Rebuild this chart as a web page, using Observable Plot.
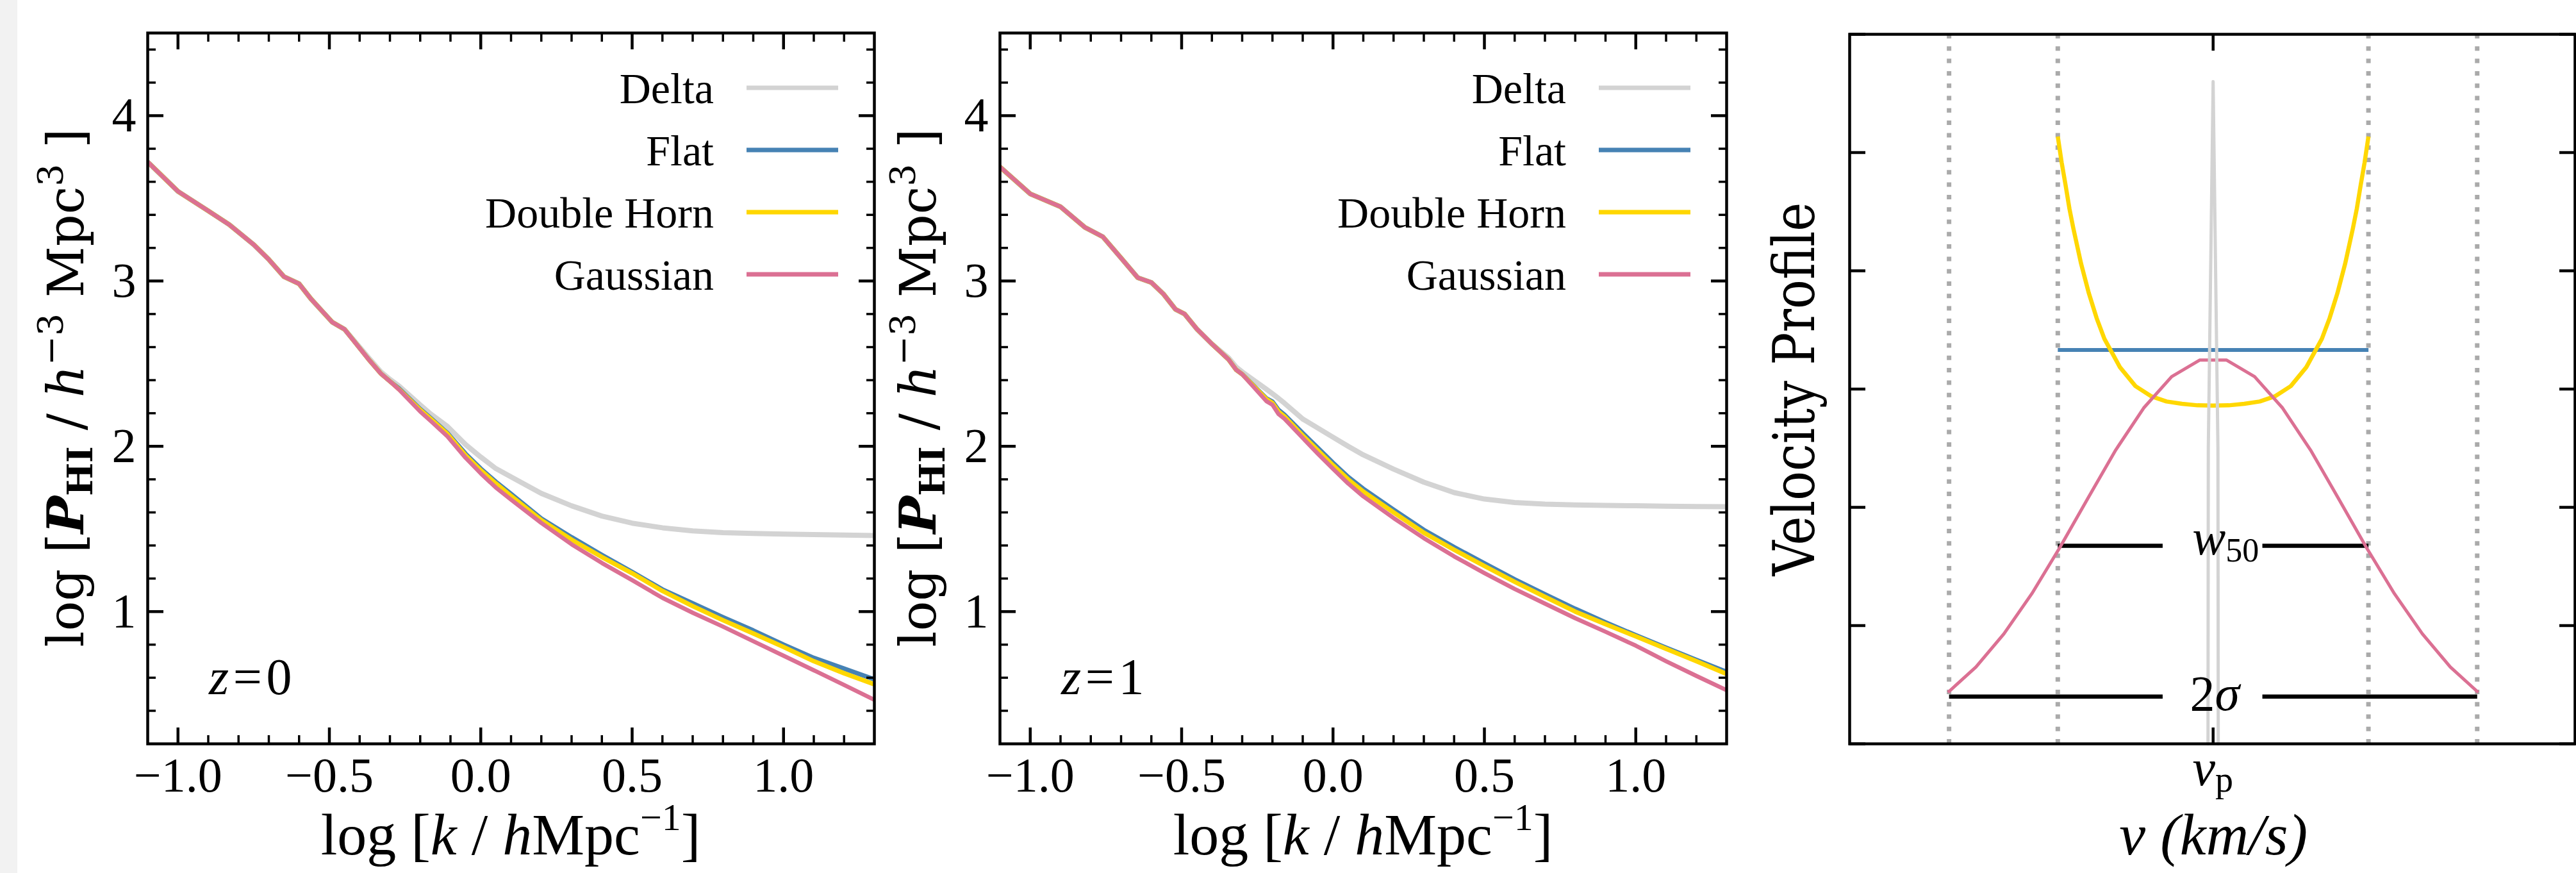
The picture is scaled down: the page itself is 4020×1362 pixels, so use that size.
<!DOCTYPE html>
<html>
<head>
<meta charset="utf-8">
<script src="https://cdn.jsdelivr.net/npm/d3@7"></script>
<script src="https://cdn.jsdelivr.net/npm/@observablehq/plot@0.6"></script>
<style>
  html, body { margin: 0; padding: 0; background: #ffffff; }
  #fig { position: relative; width: 4020px; height: 1362px; background: #ffffff; overflow: hidden; }
  #strip { position: absolute; left: 0; top: 0; width: 27px; height: 1362px; background: #f2f2f2; }
  .panel { position: absolute; top: 0; }
</style>
</head>
<body>
<div id="fig"><div id="strip"></div></div>
<script>
// ---------------- data ----------------
const seriesNames = ["Delta", "Flat", "Double Horn", "Gaussian"];
const seriesColors = ["#d3d3d3", "#4682b4", "#ffd700", "#db7093"];

// z = 0 : log k and log P_HI
const k_z0 = [-1.1, -1.0, -0.9, -0.83, -0.75, -0.7, -0.65, -0.6, -0.56, -0.49, -0.45, -0.37, -0.33, -0.3, -0.27, -0.2, -0.165, -0.11, -0.05, 0, 0.05, 0.1, 0.2, 0.3, 0.4, 0.5, 0.6, 0.7, 0.8, 0.9, 1.0, 1.1, 1.2, 1.3];
const delta_z0 = [3.72, 3.542, 3.424, 3.34, 3.22, 3.13, 3.026, 2.983, 2.89, 2.75, 2.708, 2.535, 2.45, 2.405, 2.365, 2.25, 2.195, 2.12, 2.01, 1.935, 1.865, 1.815, 1.715, 1.64, 1.578, 1.535, 1.507, 1.488, 1.478, 1.473, 1.469, 1.466, 1.463, 1.46];
const flat_z0 = [3.72, 3.542, 3.424, 3.34, 3.22, 3.13, 3.026, 2.983, 2.89, 2.75, 2.708, 2.525, 2.44, 2.393, 2.35, 2.225, 2.17, 2.08, 1.955, 1.865, 1.785, 1.712, 1.563, 1.45, 1.343, 1.24, 1.134, 1.05, 0.966, 0.886, 0.80, 0.72, 0.655, 0.59];
const horn_z0 = [3.72, 3.542, 3.424, 3.34, 3.22, 3.13, 3.026, 2.983, 2.89, 2.75, 2.708, 2.525, 2.44, 2.393, 2.345, 2.22, 2.165, 2.075, 1.945, 1.855, 1.775, 1.70, 1.553, 1.435, 1.33, 1.232, 1.125, 1.033, 0.948, 0.868, 0.786, 0.70, 0.627, 0.56];
const gauss_z0 = [3.72, 3.542, 3.424, 3.34, 3.22, 3.13, 3.026, 2.983, 2.89, 2.75, 2.708, 2.525, 2.44, 2.393, 2.343, 2.21, 2.153, 2.06, 1.93, 1.836, 1.75, 1.677, 1.536, 1.407, 1.294, 1.19, 1.083, 0.993, 0.909, 0.821, 0.733, 0.645, 0.556, 0.466];

// z = 1
const k_z1 = [-1.1, -1.0, -0.9, -0.82, -0.76, -0.7, -0.645, -0.6, -0.56, -0.52, -0.49, -0.45, -0.4, -0.345, -0.32, -0.3, -0.22, -0.2, -0.18, -0.16, -0.1, -0.05, 0, 0.05, 0.1, 0.2, 0.3, 0.4, 0.5, 0.6, 0.7, 0.8, 0.9, 1.0, 1.1, 1.2, 1.3];
const delta_z1 = [3.69, 3.527, 3.449, 3.325, 3.267, 3.139, 3.02, 2.991, 2.921, 2.828, 2.80, 2.71, 2.619, 2.535, 2.48, 2.45, 2.345, 2.318, 2.29, 2.26, 2.165, 2.11, 2.055, 2.0, 1.948, 1.862, 1.783, 1.72, 1.681, 1.66, 1.65, 1.645, 1.642, 1.64, 1.638, 1.636, 1.635];
const flat_z1 = [3.69, 3.527, 3.449, 3.325, 3.267, 3.139, 3.02, 2.991, 2.921, 2.828, 2.80, 2.71, 2.619, 2.525, 2.463, 2.436, 2.29, 2.27, 2.22, 2.19, 2.08, 1.99, 1.90, 1.815, 1.743, 1.617, 1.494, 1.39, 1.292, 1.195, 1.105, 1.017, 0.935, 0.857, 0.782, 0.708, 0.635];
const horn_z1 = [3.69, 3.527, 3.449, 3.325, 3.267, 3.139, 3.02, 2.991, 2.921, 2.828, 2.80, 2.71, 2.619, 2.525, 2.463, 2.436, 2.285, 2.262, 2.21, 2.18, 2.065, 1.975, 1.885, 1.80, 1.726, 1.60, 1.477, 1.374, 1.276, 1.18, 1.089, 1.0, 0.924, 0.85, 0.775, 0.70, 0.623];
const gauss_z1 = [3.69, 3.527, 3.449, 3.325, 3.267, 3.139, 3.02, 2.991, 2.921, 2.828, 2.80, 2.71, 2.619, 2.525, 2.463, 2.436, 2.273, 2.251, 2.195, 2.166, 2.05, 1.955, 1.864, 1.775, 1.697, 1.566, 1.444, 1.334, 1.233, 1.137, 1.048, 0.96, 0.878, 0.794, 0.70, 0.611, 0.524];

const xMajorTicks = [-1.0, -0.5, 0.0, 0.5, 1.0];
const xMinorTicks = [-0.9, -0.8, -0.7, -0.6, -0.4, -0.3, -0.2, -0.1, 0.1, 0.2, 0.3, 0.4, 0.6, 0.7, 0.8, 0.9, 1.1, 1.2];
const yMajorTicks = [1, 2, 3, 4];
const yMinorTicks = [0.4, 0.6, 0.8, 1.2, 1.4, 1.6, 1.8, 2.2, 2.4, 2.6, 2.8, 3.2, 3.4, 3.6, 3.8, 4.2, 4.4];
const zLabels = ["0", "1"];

// velocity-profile panel (v relative to v_p)
const deltaV = [-0.033, -0.031, 0, 0.031, 0.033];
const deltaP = [0, 0.5, 1.12, 0.5, 0];
const flatV = [-1.0, 1.0];
const flatP = [0.666, 0.666];
const hornV = [-1.0, -0.975, -0.95, -0.925, -0.9, -0.85, -0.8, -0.75, -0.7, -0.6, -0.5, -0.4, -0.3, -0.2, -0.1, 0, 0.1, 0.2, 0.3, 0.4, 0.5, 0.6, 0.7, 0.75, 0.8, 0.85, 0.9, 0.925, 0.95, 0.975, 1.0];
const hornP = [1.027, 0.983, 0.945, 0.905, 0.872, 0.812, 0.762, 0.720, 0.685, 0.637, 0.605, 0.588, 0.579, 0.575, 0.5725, 0.572, 0.5725, 0.575, 0.579, 0.588, 0.605, 0.637, 0.685, 0.720, 0.762, 0.812, 0.872, 0.905, 0.945, 0.983, 1.027];
const gaussV = [-1.707, -1.527, -1.347, -1.167, -0.987, -0.807, -0.627, -0.447, -0.267, -0.087, 0.087, 0.267, 0.447, 0.627, 0.807, 0.987, 1.167, 1.347, 1.527, 1.707];
const gaussP = [0.087, 0.130, 0.186, 0.254, 0.332, 0.415, 0.497, 0.568, 0.621, 0.649, 0.649, 0.621, 0.568, 0.497, 0.415, 0.332, 0.254, 0.186, 0.130, 0.087];
const widthMarkersV = [-1.7, -1.0, 1.0, 1.7];
const segX1 = [-1.0, 0.317, -1.7, 0.317];
const segX2 = [-0.325, 1.0, -0.325, 1.7];
const segY = [0.335, 0.335, 0.08, 0.08];
const profileTicks = [0, 0.2, 0.4, 0.6, 0.8, 1.0, 1.2];

// ---------------- drawing ----------------
const SERIF = "'Liberation Serif', 'Times New Roman', Times, serif";
const DEJAVU = "'DejaVu Serif', serif";
const lineWidths = [8, 7, 7, 6.5];
const fig = document.getElementById("fig");

function inwardAxes(xMaj, xMin, yMaj, yMin, labelX, labelY) {
  const none = () => "";
  const marks = [
    Plot.axisX({anchor: "bottom", ticks: xMaj, tickSize: -25, tickPadding: 46, tickFormat: labelX || none, fontSize: 76, strokeWidth: 4.5, label: null}),
    Plot.axisX({anchor: "top", ticks: xMaj, tickSize: -25, tickFormat: none, strokeWidth: 4.5, label: null}),
    Plot.axisY({anchor: "left", ticks: yMaj, tickSize: -25, tickPadding: 43, tickFormat: labelY || none, fontSize: 76, strokeWidth: 4.5, label: null}),
    Plot.axisY({anchor: "right", ticks: yMaj, tickSize: -25, tickFormat: none, strokeWidth: 4.5, label: null})
  ];
  if (xMin) marks.push(
    Plot.axisX({anchor: "bottom", ticks: xMin, tickSize: -13, tickFormat: none, strokeWidth: 3.5, label: null}),
    Plot.axisX({anchor: "top", ticks: xMin, tickSize: -13, tickFormat: none, strokeWidth: 3.5, label: null}));
  if (yMin) marks.push(
    Plot.axisY({anchor: "left", ticks: yMin, tickSize: -13, tickFormat: none, strokeWidth: 3.5, label: null}),
    Plot.axisY({anchor: "right", ticks: yMin, tickSize: -13, tickFormat: none, strokeWidth: 3.5, label: null}));
  return marks;
}

function addTspans(textSel, parts) {
  parts.forEach(p => {
    const t = textSel.append("tspan").text(p.t);
    if (p.style) t.attr("font-style", p.style);
    if (p.weight) t.attr("font-weight", p.weight);
    if (p.size) t.attr("font-size", p.size);
    if (p.dy) t.attr("dy", p.dy);
  });
}

function spectrumPanel(left, k, curves, zText) {
  const rows = [];
  seriesNames.forEach((name, i) => k.forEach((kv, j) => rows.push({name, k: kv, p: curves[i][j]})));
  const plot = Plot.plot({
    width: 1400, height: 1362,
    marginLeft: 230, marginRight: 36, marginTop: 51, marginBottom: 202,
    x: {domain: [-1.1, 1.3]},
    y: {domain: [0.2, 4.5]},
    style: {fontFamily: SERIF, color: "black", background: "transparent", overflow: "visible"},
    marks: [
      ...seriesNames.map((name, i) => Plot.line(rows.filter(r => r.name === name), {
        x: "k", y: "p", stroke: seriesColors[i], strokeWidth: lineWidths[i], strokeLinecap: "butt", clip: true
      })),
      Plot.frame({stroke: "black", strokeWidth: 4.5}),
      ...inwardAxes(xMajorTicks, xMinorTicks, yMajorTicks, yMinorTicks, d3.format(".1f"), d3.format("d"))
    ]
  });
  plot.classList.add("panel");
  plot.style.left = left + "px";
  fig.appendChild(plot);
  const svg = d3.select(plot);
  const fl = 230;
  // legend
  seriesNames.forEach((name, i) => {
    const y = 137 + 97 * i;
    svg.append("line").attr("x1", fl + 935).attr("x2", fl + 1078).attr("y1", y).attr("y2", y)
      .attr("stroke", seriesColors[i]).attr("stroke-width", 7);
    svg.append("text").attr("x", fl + 884).attr("y", y + 24).attr("text-anchor", "end")
      .attr("font-family", SERIF).attr("font-size", 68).attr("fill", "black").text(name);
  });
  // redshift label
  const zt = svg.append("text").attr("x", fl + 96).attr("y", 1083).attr("text-anchor", "start")
    .attr("font-family", SERIF).attr("font-size", 80).attr("fill", "black");
  addTspans(zt, [{t: "z", style: "italic"}, {t: "\u200A=\u200A" + zText}]);
  // x label
  const xl = svg.append("text").attr("x", 797).attr("y", 1333).attr("text-anchor", "middle")
    .attr("font-family", SERIF).attr("font-size", 92).attr("fill", "black");
  addTspans(xl, [{t: "log ["}, {t: "k", style: "italic"}, {t: " / "}, {t: "h", style: "italic"}, {t: "Mpc"},
    {t: "\u22121", size: 60, dy: -38}, {t: "]", dy: 38}]);
  // y label
  const yl = svg.append("text").attr("transform", "translate(130,605) rotate(-90)").attr("text-anchor", "middle")
    .attr("font-family", DEJAVU).attr("font-size", 78).attr("fill", "black");
  addTspans(yl, [{t: "log ["}, {t: "P", style: "italic", weight: "bold"}, {t: "HI", size: 55, weight: "bold", dy: 14},
    {t: " / ", dy: -14}, {t: "h", style: "italic"}, {t: "\u22123", size: 55, dy: -32}, {t: " Mpc", dy: 32},
    {t: "3", size: 55, dy: -32}, {t: " ]", dy: 32}]);
}

spectrumPanel(0, k_z0, [delta_z0, flat_z0, horn_z0, gauss_z0], zLabels[0]);
spectrumPanel(1330, k_z1, [delta_z1, flat_z1, horn_z1, gauss_z1], zLabels[1]);

// ---------- velocity profile panel ----------
const toRows = (V, P) => V.map((v, i) => ({v, p: P[i]}));
const segments = segX1.map((x1, i) => ({x1, x2: segX2[i], y: segY[i]}));
const p3 = Plot.plot({
  width: 1320, height: 1362,
  marginLeft: 186, marginRight: 2, marginTop: 53, marginBottom: 202,
  x: {domain: [-2.34, 2.33]},
  y: {domain: [0, 1.2]},
  style: {fontFamily: SERIF, color: "black", background: "transparent", overflow: "visible"},
  marks: [
    Plot.ruleX(widthMarkersV, {stroke: "#aaaaaa", strokeWidth: 7, strokeDasharray: "7,12.3"}),
    Plot.link(segments, {x1: "x1", x2: "x2", y1: "y", y2: "y", stroke: "black", strokeWidth: 6.5}),
    Plot.line(toRows(flatV, flatP), {x: "v", y: "p", stroke: seriesColors[1], strokeWidth: 6, strokeLinecap: "butt"}),
    Plot.line(toRows(hornV, hornP), {x: "v", y: "p", stroke: seriesColors[2], strokeWidth: 6.5, strokeLinecap: "butt"}),
    Plot.line(toRows(gaussV, gaussP), {x: "v", y: "p", stroke: seriesColors[3], strokeWidth: 5, strokeLinecap: "butt"}),
    Plot.line(toRows(deltaV, deltaP), {x: "v", y: "p", stroke: seriesColors[0], strokeWidth: 5}),
    Plot.frame({stroke: "black", strokeWidth: 4.5}),
    ...inwardAxes([0], null, profileTicks, null, null, null)
  ]
});
p3.classList.add("panel");
p3.style.left = "2700px";
fig.appendChild(p3);
{
  const svg = d3.select(p3);
  const xs = p3.scale("x"), ys = p3.scale("y");
  const x0 = xs.apply(0);
  const w = svg.append("text").attr("x", x0 + 20).attr("y", ys.apply(segY[0]) + 14).attr("text-anchor", "middle")
    .attr("font-family", SERIF).attr("font-size", 78).attr("fill", "black");
  addTspans(w, [{t: "w", style: "italic"}, {t: "50", size: 52, dy: 11}]);
  const s = svg.append("text").attr("x", x0 + 3).attr("y", ys.apply(segY[2]) + 22).attr("text-anchor", "middle")
    .attr("font-family", SERIF).attr("font-size", 78).attr("fill", "black");
  addTspans(s, [{t: "2"}, {t: "\u03C3", style: "italic"}]);
  const vp = svg.append("text").attr("x", x0).attr("y", 1225).attr("text-anchor", "middle")
    .attr("font-family", SERIF).attr("font-size", 80).attr("fill", "black");
  addTspans(vp, [{t: "v", style: "italic"}, {t: "p", size: 56, dy: 10}]);
  svg.append("text").attr("x", x0 + 1).attr("y", 1333).attr("text-anchor", "middle")
    .attr("font-family", SERIF).attr("font-size", 92).attr("font-style", "italic").attr("fill", "black")
    .text("v (km/s)");
  svg.append("text").attr("transform", "translate(131,607) rotate(-90)").attr("text-anchor", "middle")
    .attr("font-family", DEJAVU).attr("font-size", 90).attr("fill", "black")
    .attr("textLength", 583).attr("lengthAdjust", "spacingAndGlyphs").text("Velocity Profile");
}
</script>
</body>
</html>
